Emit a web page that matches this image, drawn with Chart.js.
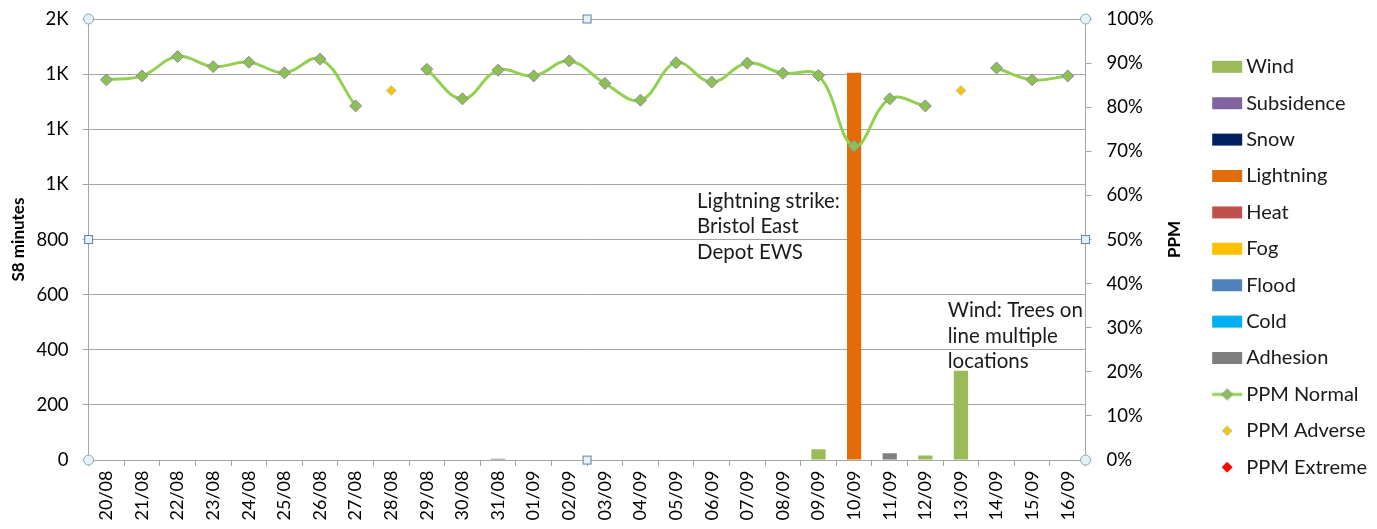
<!DOCTYPE html>
<html>
<head>
<meta charset="utf-8">
<script src="https://cdn.jsdelivr.net/npm/chart.js@4.4.1/dist/chart.umd.min.js"></script>
<style>
  html, body { margin: 0; padding: 0; background: #fff; }
  #wrap { width: 1377px; height: 529px; }
</style>
</head>
<body>
<div id="wrap"><canvas id="chart"></canvas></div>
<script>
// Dni (oś X)
const days = ['20/08', '21/08', '22/08', '23/08', '24/08', '25/08', '26/08', '27/08', '28/08', '29/08',
  '30/08', '31/08', '01/09', '02/09', '03/09', '04/09', '05/09', '06/09', '07/09', '08/09',
  '09/09', '10/09', '11/09', '12/09', '13/09', '14/09', '15/09', '16/09'];

// S8 minutes wg przyczyny
const wind       = [0, 0, 0, 0, 0, 0, 0, 0, 0, 0, 0, 0, 0, 0, 0, 0, 0, 0, 0, 0, 39, 0, 0, 17, 324, 0, 0, 0];
const subsidence = new Array(28).fill(0);
const snow       = new Array(28).fill(0);
const lightning  = [0, 0, 0, 0, 0, 0, 0, 0, 0, 0, 0, 0, 0, 0, 0, 0, 0, 0, 0, 0, 0, 1405, 0, 0, 0, 0, 0, 0];
const heat       = new Array(28).fill(0);
const fog        = new Array(28).fill(0);
const flood      = new Array(28).fill(0);
const cold       = new Array(28).fill(0);
const adhesion   = [0, 0, 0, 0, 0, 0, 0, 0, 0, 0, 0, 5, 0, 0, 0, 0, 0, 0, 0, 0, 0, 0, 25, 0, 0, 0, 0, 0];

// PPM (%)
const ppmNormal = [86.2, 87.1, 91.5, 89.2, 90.2, 87.8, 90.9, 80.3, null, 88.6,
  81.9, 88.4, 87.1, 90.5, 85.4, 81.6, 90.1, 85.7, 90.0, 87.7,
  87.2, 71.2, 81.9, 80.3, null, 88.9, 86.2, 87.1];
const ppmAdverse = [null, null, null, null, null, null, null, null, 83.8, null,
  null, null, null, null, null, null, null, null, null, null,
  null, null, null, null, 83.8, null, null, null];
const ppmExtreme = new Array(28).fill(null);

// Opisy zdarzeń
const notes = [
  { lines: ['Lightning strike:', 'Bristol East', 'Depot EWS'], at: 16.59, value: 940 },
  { lines: ['Wind: Trees on', 'line multiple', 'locations'], at: 23.63, value: 542 }
];

const FONT = 'Lato, "Open Sans", sans-serif';
const GRID = '#a6a6a6';

// Ikony legendy (płótno 48 px, znak przesunięty o 12 px)
function iconCanvas() {
  const c = document.createElement('canvas');
  c.width = 48; c.height = 14;
  return c;
}
function boxIcon(color) {
  const c = iconCanvas();
  const ctx = c.getContext('2d');
  ctx.fillStyle = color;
  ctx.fillRect(12, 1, 30, 12);
  return c;
}
function diamond(ctx, x, y, r, fill, stroke) {
  ctx.beginPath();
  ctx.moveTo(x, y - r); ctx.lineTo(x + r, y); ctx.lineTo(x, y + r); ctx.lineTo(x - r, y);
  ctx.closePath();
  ctx.fillStyle = fill; ctx.fill();
  ctx.strokeStyle = stroke; ctx.lineWidth = 1; ctx.stroke();
}
function lineIcon() {
  const c = iconCanvas();
  const ctx = c.getContext('2d');
  ctx.strokeStyle = '#92d050'; ctx.lineWidth = 3;
  ctx.beginPath(); ctx.moveTo(12, 7); ctx.lineTo(42, 7); ctx.stroke();
  diamond(ctx, 27, 7, 5.5, '#8cc152', '#8a8a9e');
  return c;
}
function markIcon(fill, stroke) {
  const c = iconCanvas();
  diamond(c.getContext('2d'), 27, 7, 5, fill, stroke);
  return c;
}

function bar(label, data, color) {
  return {
    type: 'bar', label, data, backgroundColor: color, yAxisID: 'y', order: 2,
    categoryPercentage: 1, barPercentage: 0.4, stack: 's8'
  };
}

const datasets = [
  bar('Wind', wind, '#9bbb59'),
  bar('Subsidence', subsidence, '#8064a2'),
  bar('Snow', snow, '#002060'),
  bar('Lightning', lightning, '#e36c09'),
  bar('Heat', heat, '#c0504d'),
  bar('Fog', fog, '#ffc000'),
  bar('Flood', flood, '#4f81bd'),
  bar('Cold', cold, '#00b0f0'),
  bar('Adhesion', adhesion, '#7f7f7f'),
  {
    type: 'line', label: 'PPM Normal', data: ppmNormal, yAxisID: 'y1', order: 0,
    borderColor: '#92d050', borderWidth: 3, tension: 0.4, spanGaps: false,
    pointStyle: 'rectRot', pointRadius: 6, pointBackgroundColor: '#8cc152',
    pointBorderColor: '#8a8a9e', pointBorderWidth: 1
  },
  {
    type: 'line', label: 'PPM Adverse', data: ppmAdverse, yAxisID: 'y1', order: 0,
    showLine: false, pointStyle: 'rectRot', pointRadius: 5,
    pointBackgroundColor: '#ffc000', pointBorderColor: '#9fd3d6', pointBorderWidth: 1
  },
  {
    type: 'line', label: 'PPM Extreme', data: ppmExtreme, yAxisID: 'y1', order: 0,
    showLine: false, pointStyle: 'rectRot', pointRadius: 5,
    pointBackgroundColor: '#ff0000', pointBorderColor: '#ff0000', pointBorderWidth: 1
  }
];

const icons = [
  boxIcon('#9bbb59'), boxIcon('#8064a2'), boxIcon('#002060'), boxIcon('#e36c09'),
  boxIcon('#c0504d'), boxIcon('#ffc000'), boxIcon('#4f81bd'), boxIcon('#00b0f0'),
  boxIcon('#7f7f7f'), lineIcon(), markIcon('#ffc000', '#9fd3d6'), markIcon('#ff0000', '#ff0000')
];

// Teksty opisów
const notesPlugin = {
  id: 'notes',
  afterDatasetsDraw(chart) {
    const { ctx, scales: { x, y } } = chart;
    ctx.save();
    ctx.font = '20.5px ' + FONT;
    ctx.fillStyle = '#1a1a1a';
    ctx.textBaseline = 'middle';
    notes.forEach(n => {
      const px = x.getPixelForValue(n.at);
      const py = y.getPixelForValue(n.value);
      n.lines.forEach((t, i) => ctx.fillText(t, px, py + i * 25.5));
    });
    ctx.restore();
  }
};

// Tytuł prawej osi (czytany od dołu) + uchwyty zaznaczenia
const extrasPlugin = {
  id: 'extras',
  afterDraw(chart) {
    const { ctx, chartArea: a } = chart;
    ctx.save();
    ctx.font = 'bold 17px ' + FONT;
    ctx.fillStyle = '#000';
    ctx.textAlign = 'center';
    ctx.textBaseline = 'middle';
    ctx.translate(a.right + 89, (a.top + a.bottom) / 2);
    ctx.rotate(-Math.PI / 2);
    ctx.fillText('PPM', 0, 0);
    ctx.restore();

    ctx.save();
    const mx = (a.left + a.right) / 2, my = (a.top + a.bottom) / 2;
    ctx.lineWidth = 1;
    [[a.left, a.top], [a.right, a.top], [a.left, a.bottom], [a.right, a.bottom]].forEach(([px, py]) => {
      ctx.beginPath();
      ctx.arc(px, py, 5, 0, Math.PI * 2);
      ctx.fillStyle = '#e4f1f5'; ctx.fill();
      ctx.strokeStyle = '#8aa6b8'; ctx.stroke();
    });
    [[mx, a.top], [mx, a.bottom], [a.left, my], [a.right, my]].forEach(([px, py]) => {
      ctx.fillStyle = '#e4f1f5';
      ctx.fillRect(px - 4, py - 4, 8, 8);
      ctx.strokeStyle = '#5d83a8';
      ctx.strokeRect(px - 4, py - 4, 8, 8);
    });
    ctx.restore();
  }
};

new Chart(document.getElementById('chart'), {
  data: { labels: days, datasets },
  plugins: [notesPlugin, extrasPlugin],
  options: {
    responsive: true,
    maintainAspectRatio: false,
    animation: false,
    layout: { padding: { left: 4, right: 0, top: 9, bottom: 4 } },
    plugins: {
      tooltip: { enabled: false },
      legend: {
        position: 'right',
        labels: {
          usePointStyle: true,
          pointStyleWidth: 24,
          padding: 16.4,
          color: '#1a1a1a',
          font: { family: FONT, size: 20 },
          sort: (a, b) => a.datasetIndex - b.datasetIndex,
          generateLabels(chart) {
            const items = Chart.defaults.plugins.legend.labels.generateLabels(chart);
            items.forEach(it => { it.pointStyle = icons[it.datasetIndex]; });
            return items;
          }
        }
      }
    },
    scales: {
      x: {
        stacked: true,
        offset: true,
        grid: { offset: true, drawOnChartArea: false, color: GRID, tickLength: 6 },
        border: { color: GRID },
        ticks: { color: '#000', font: { family: FONT, size: 18 }, maxRotation: 90, minRotation: 90, autoSkip: false, padding: 4.5 }
      },
      y: {
        stacked: true,
        position: 'left',
        min: 0, max: 1600,
        grid: { color: GRID, tickLength: 6 },
        border: { color: GRID },
        afterFit: s => { s.width -= 10; s.paddingTop = 19; s.paddingBottom = 0; },
        ticks: {
          stepSize: 200, color: '#000', padding: 14, font: { family: FONT, size: 18.5 },
          callback: v => v >= 1000 ? Math.round(v / 1000) + 'K' : v
        },
        title: { display: true, text: 'S8 minutes', color: '#000', font: { family: FONT, size: 17, weight: 'bold' } }
      },
      y1: {
        position: 'right',
        min: 0, max: 100,
        grid: { drawOnChartArea: false, color: GRID, tickLength: 6 },
        border: { color: GRID },
        afterFit: s => { s.paddingTop = 19; s.paddingBottom = 0; },
        ticks: {
          stepSize: 10, color: '#000', padding: 15, font: { family: FONT, size: 18.5 },
          callback: v => v + '%'
        },
        title: { display: true, text: 'PPM', color: 'transparent', font: { family: FONT, size: 16, weight: 'bold' } }
      }
    }
  }
});
</script>
</body>
</html>
